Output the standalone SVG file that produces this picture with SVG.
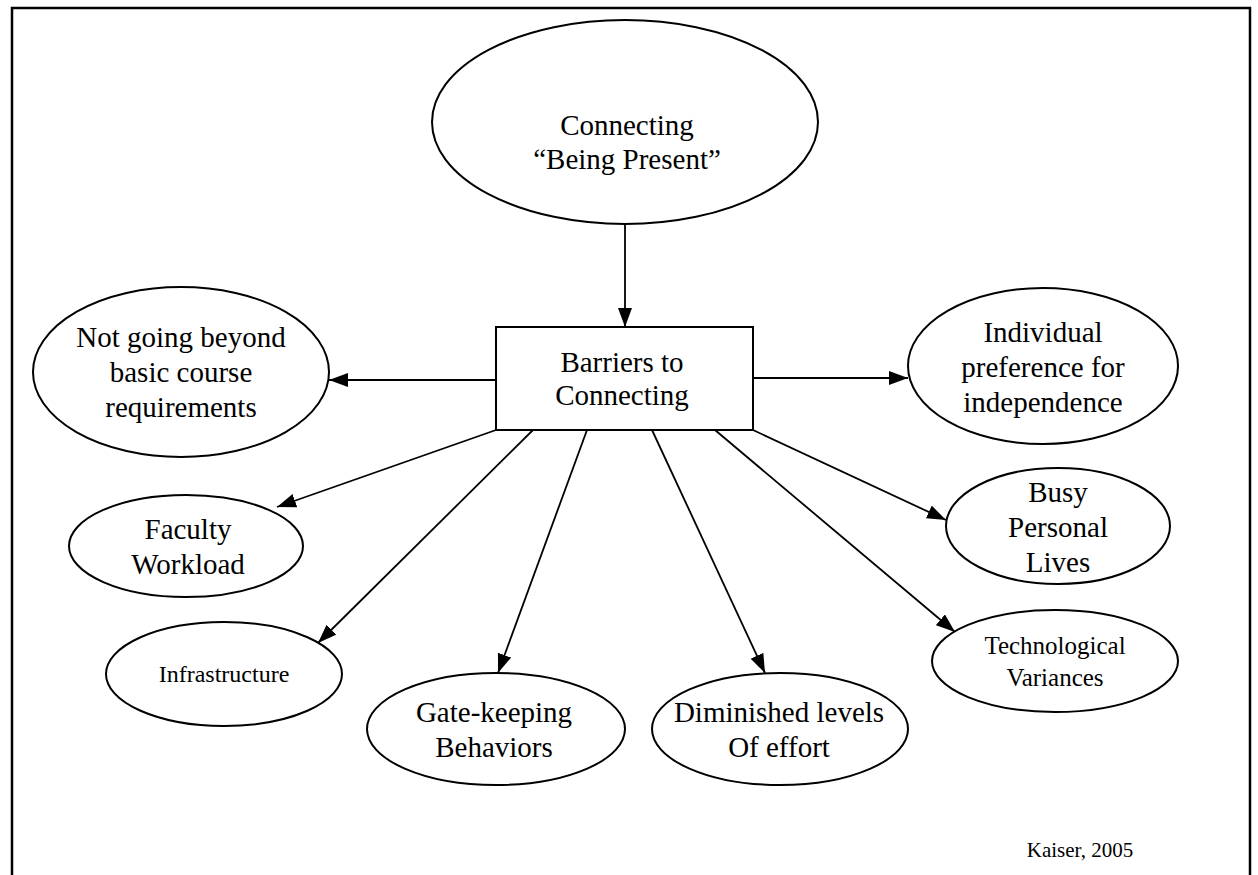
<svg xmlns="http://www.w3.org/2000/svg" width="1258" height="875" viewBox="0 0 1258 875">
  <style>
    .shape { fill: #fff; stroke: #000; stroke-width: 2; }
    .lbl { font-family: "Liberation Serif", "Times New Roman", serif; font-size: 29px; fill: #000; text-anchor: middle; }
    .sm { font-size: 25px; }
    .mid { font-size: 24px; }
    .xs { font-size: 21px; }
    .edge { stroke: #000; stroke-width: 1.8; fill: none; marker-end: url(#arrow); }
  </style>
  <defs>
    <marker id="arrow" markerUnits="userSpaceOnUse" markerWidth="20" markerHeight="15" refX="19" refY="7" orient="auto">
      <path d="M0,0 L19,7 L0,14 z" fill="#000"/>
    </marker>
  </defs>
  <rect width="1258" height="875" fill="#fff"/>

  <!-- page frame (open at the bottom) -->
  <path d="M12,880 V8 H1250 V880" fill="none" stroke="#000" stroke-width="2.5"/>

  <g id="connectors">
    <line class="edge" x1="625" y1="224" x2="625" y2="327"/>
    <line class="edge" x1="496" y1="380" x2="329" y2="380"/>
    <line class="edge" x1="753" y1="378" x2="908" y2="378"/>
    <line class="edge" x1="496" y1="430" x2="277" y2="507"/>
    <line class="edge" x1="533" y1="430" x2="318" y2="643"/>
    <line class="edge" x1="587" y1="430" x2="498" y2="673"/>
    <line class="edge" x1="652" y1="430" x2="765" y2="673"/>
    <line class="edge" x1="715" y1="430" x2="955" y2="632"/>
    <line class="edge" x1="753" y1="430" x2="946" y2="520"/>
  </g>

  <g id="node-connecting">
    <ellipse class="shape" cx="625" cy="122" rx="193" ry="102"/>
    <text class="lbl" x="627" y="135">Connecting</text>
    <text class="lbl" x="627" y="169">“Being Present”</text>
  </g>

  <g id="node-barriers">
    <rect class="shape" x="496" y="327" width="257" height="103"/>
    <text class="lbl" x="622" y="372">Barriers to</text>
    <text class="lbl" x="622" y="405">Connecting</text>
  </g>

  <g id="node-not-going-beyond">
    <ellipse class="shape" cx="181" cy="372" rx="148" ry="85"/>
    <text class="lbl" x="181" y="347">Not going beyond</text>
    <text class="lbl" x="181" y="382">basic course</text>
    <text class="lbl" x="181" y="417">requirements</text>
  </g>

  <g id="node-individual-preference">
    <ellipse class="shape" cx="1043" cy="366" rx="135" ry="78"/>
    <text class="lbl" x="1043" y="342">Individual</text>
    <text class="lbl" x="1043" y="377">preference for</text>
    <text class="lbl" x="1043" y="412">independence</text>
  </g>

  <g id="node-faculty-workload">
    <ellipse class="shape" cx="186" cy="546" rx="117" ry="51"/>
    <text class="lbl" x="188" y="539">Faculty</text>
    <text class="lbl" x="188" y="574">Workload</text>
  </g>

  <g id="node-busy-lives">
    <ellipse class="shape" cx="1058" cy="526" rx="112" ry="58"/>
    <text class="lbl" x="1058" y="502">Busy</text>
    <text class="lbl" x="1058" y="537">Personal</text>
    <text class="lbl" x="1058" y="572">Lives</text>
  </g>

  <g id="node-infrastructure">
    <ellipse class="shape" cx="224" cy="674" rx="118" ry="52"/>
    <text class="lbl mid" x="224" y="682">Infrastructure</text>
  </g>

  <g id="node-gate-keeping">
    <ellipse class="shape" cx="496" cy="729" rx="129" ry="56"/>
    <text class="lbl" x="494" y="722">Gate-keeping</text>
    <text class="lbl" x="494" y="757">Behaviors</text>
  </g>

  <g id="node-diminished-effort">
    <ellipse class="shape" cx="780" cy="729" rx="128" ry="56"/>
    <text class="lbl" x="779" y="722">Diminished levels</text>
    <text class="lbl" x="779" y="757">Of effort</text>
  </g>

  <g id="node-technological">
    <ellipse class="shape" cx="1055" cy="661" rx="123" ry="51"/>
    <text class="lbl sm" x="1055" y="654">Technological</text>
    <text class="lbl sm" x="1055" y="686">Variances</text>
  </g>

  <g id="credit">
    <text class="lbl xs" x="1080" y="857">Kaiser, 2005</text>
  </g>
</svg>
